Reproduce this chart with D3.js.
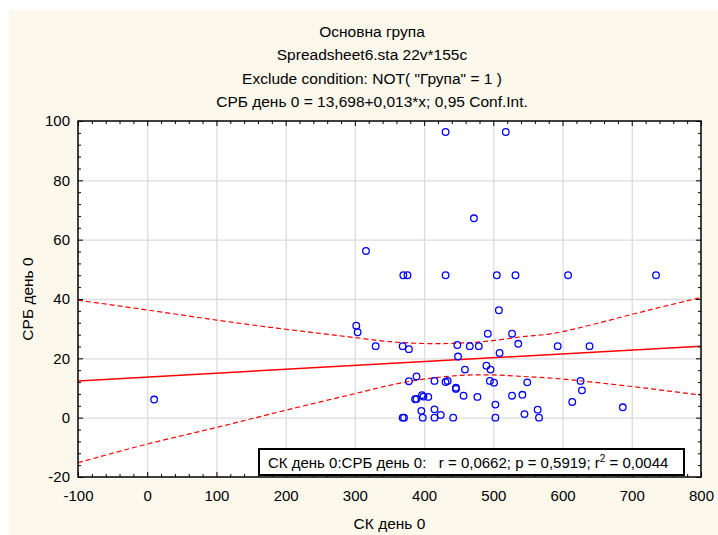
<!DOCTYPE html>
<html>
<head>
<meta charset="utf-8">
<script src="https://cdn.jsdelivr.net/npm/d3@7"></script>
<style>
  body { margin:0; background:#ffffff; }
  text { font-family: "Liberation Sans", Arial, sans-serif; }
</style>
</head>
<body>
<div id="chart"></div>
<script>
// title lines
var titleLines = ["Основна група", "Spreadsheet6.sta 22v*155c", "Exclude condition: NOT( \"Група\" = 1 )", "СРБ день 0 = 13,698+0,013*x; 0,95 Conf.Int."];

// СК день 0 / СРБ день 0 pairs
var ckValues  = [10, 302, 304, 316, 330, 369, 378, 370, 376, 431, 518, 472, 431, 505, 532, 608, 735,
                 389, 378, 387, 389, 397, 399, 406, 396, 398, 369, 371, 508, 492, 527, 536, 448, 466,
                 479, 593, 639, 449, 509, 459, 490, 496, 415, 431, 434, 495, 501, 549, 626, 628, 446,
                 446, 457, 477, 527, 542, 614, 687, 503, 415, 564, 415, 424, 442, 503, 545, 566];
var crbValues = [6.1, 31.0, 28.8, 56.2, 24.1, 24.1, 23.1, 48, 48, 96.3, 96.3, 67.2, 48, 48, 48, 48, 48,
                 13.9, 12.3, 6.2, 6.3, 7.6, 7.1, 7.0, 2.3, 0, 0, 0, 36.2, 28.3, 28.3, 24.9, 24.5, 24.1,
                 24.1, 24.1, 24.1, 20.6, 21.8, 16.2, 17.5, 16.2, 12.4, 12.0, 12.4, 12.4, 11.8, 11.9, 12.4, 9.2, 10.1,
                 9.7, 7.4, 7.0, 7.4, 7.7, 5.3, 3.5, 4.4, 2.8, 2.7, 0, 0.9, 0, 0, 1.2, 0];

// regression line coefficients (from title)
var regIntercept = 13.698;
var regSlope = 0.013;

// 0.95 confidence band
var bandX     = [-100, 0, 100, 200, 300, 350, 400, 450, 500, 550, 600, 700, 800];
var bandUpper = [39.6, 36.3, 32.9, 29.8, 27.0, 25.6, 25.0, 25.1, 26.0, 27.5, 29.0, 34.8, 40.5];
var bandLower = [-15.2, -8.9, -3.3, 2.5, 8.1, 10.9, 13.0, 14.2, 14.4, 13.8, 13.0, 10.5, 7.6];

var xTicks = [-100, 0, 100, 200, 300, 400, 500, 600, 700, 800];
var yTicks = [-20, 0, 20, 40, 60, 80, 100];

var statsText = "СК день 0:СРБ день 0:   r = 0,0662; p = 0,5919; r";

var width = 718, height = 535;
var marginLeft = 78, marginRight = 17, marginTop = 121, marginBottom = 58;
var plotWidth = width - marginLeft - marginRight;
var plotHeight = height - marginTop - marginBottom;

var svg = d3.select("#chart").append("svg").attr("width", width).attr("height", height);

//background
svg.append("rect").attr("x", 9).attr("y", 10).attr("width", width - 9).attr("height", height - 10)
    .attr("fill", "#fdf8ec");

var xScale = d3.scaleLinear().domain([-100, 800]).range([0, plotWidth]);
var yScale = d3.scaleLinear().domain([-20, 100]).range([plotHeight, 0]);

var g = svg.append("g").attr("transform", "translate(" + marginLeft + "," + marginTop + ")");
g.append("rect").attr("width", plotWidth).attr("height", plotHeight).attr("fill", "white");

// grid
var gridX = g.append("g").attr("transform", "translate(0," + plotHeight + ")")
    .call(d3.axisBottom(xScale).tickValues(xTicks.slice(1, -1)).tickSize(-plotHeight).tickFormat(""));
var gridY = g.append("g")
    .call(d3.axisLeft(yScale).tickValues(yTicks.slice(1, -1)).tickSize(-plotWidth).tickFormat(""));
[gridX, gridY].forEach(function(a) {
    a.select(".domain").remove();
    a.selectAll("line").attr("stroke", "#dcdcdc").attr("stroke-width", 1.3);
});

// confidence band
var bandLine = d3.line().curve(d3.curveNatural)
    .x(function(d) { return xScale(d[0]); })
    .y(function(d) { return yScale(d[1]); });
[bandUpper, bandLower].forEach(function(vals) {
    g.append("path")
        .datum(bandX.map(function(x, i) { return [x, vals[i]]; }))
        .attr("d", bandLine)
        .attr("fill", "none")
        .attr("stroke", "#ff0000")
        .attr("stroke-width", 1.2)
        .attr("stroke-dasharray", "5,3");
});

// regression line
g.append("line")
    .attr("x1", xScale(-100)).attr("x2", xScale(800))
    .attr("y1", yScale(regIntercept + regSlope * -100))
    .attr("y2", yScale(regIntercept + regSlope * 800))
    .attr("stroke", "#ff0000").attr("stroke-width", 1.5);

// points
g.append("g").selectAll("circle").data(ckValues).enter()
    .append("circle")
    .attr("cx", function(d) { return xScale(d); })
    .attr("cy", function(d, i) { return yScale(crbValues[i]); })
    .attr("r", 3.3)
    .attr("fill", "none")
    .attr("stroke", "#0000ff")
    .attr("stroke-width", 1.3);

// axes with inward ticks on all four sides
var minorX = d3.range(-100, 801, 20).filter(function(v) { return v % 100 != 0; });
var minorY = d3.range(-20, 101, 4).filter(function(v) { return v % 20 != 0; });
var plainFormat = function(d) { return String(d); }; // hyphen minus like the original

function styleAxis(a) {
    a.select(".domain").remove();
    a.selectAll("line").attr("stroke", "black").attr("stroke-width", 1);
    a.selectAll("text").attr("font-size", "15px").attr("fill", "black");
}

var axB = g.append("g").attr("transform", "translate(0," + plotHeight + ")")
    .call(d3.axisBottom(xScale).tickValues(xTicks).tickSize(-5).tickPadding(13).tickFormat(plainFormat));
styleAxis(axB);
styleAxis(g.append("g").attr("transform", "translate(0," + plotHeight + ")")
    .call(d3.axisBottom(xScale).tickValues(minorX).tickSize(-3).tickFormat("")));
styleAxis(g.append("g").call(d3.axisTop(xScale).tickValues(xTicks).tickSize(-5).tickFormat("")));
styleAxis(g.append("g").call(d3.axisTop(xScale).tickValues(minorX).tickSize(-3).tickFormat("")));

var axL = g.append("g").call(d3.axisLeft(yScale).tickValues(yTicks).tickSize(-5).tickPadding(8).tickFormat(plainFormat));
styleAxis(axL);
styleAxis(g.append("g").call(d3.axisLeft(yScale).tickValues(minorY).tickSize(-3).tickFormat("")));
styleAxis(g.append("g").attr("transform", "translate(" + plotWidth + ",0)")
    .call(d3.axisRight(yScale).tickValues(yTicks).tickSize(-5).tickFormat("")));
styleAxis(g.append("g").attr("transform", "translate(" + plotWidth + ",0)")
    .call(d3.axisRight(yScale).tickValues(minorY).tickSize(-3).tickFormat("")));

// frame
g.append("rect").attr("width", plotWidth).attr("height", plotHeight)
    .attr("fill", "none").attr("stroke", "black").attr("stroke-width", 1.5);

// stats box
var box = g.append("g");
box.append("rect")
    .attr("x", 181).attr("y", 328).attr("width", 425).attr("height", 26)
    .attr("fill", "white").attr("stroke", "black").attr("stroke-width", 2);
var st = box.append("text").attr("x", 190).attr("y", 347).attr("font-size", "15px").attr("fill", "black")
    .attr("xml:space", "preserve").style("white-space", "pre");
st.append("tspan").text(statsText);
st.append("tspan").attr("dy", -6).attr("font-size", "10px").text("2");
st.append("tspan").attr("dy", 6).text(" = 0,0044");

// titles
svg.selectAll(".title").data(titleLines).enter()
    .append("text")
    .attr("class", "title")
    .attr("x", 372)
    .attr("y", function(d, i) { return 37 + i * 23.3; })
    .attr("text-anchor", "middle")
    .attr("font-size", "15.5px")
    .attr("fill", "black")
    .text(function(d) { return d; });

// axis titles
svg.append("text").attr("x", marginLeft + plotWidth / 2).attr("y", 529)
    .attr("text-anchor", "middle").attr("font-size", "15.5px").text("СК день 0");
svg.append("text").attr("transform", "translate(33," + (marginTop + plotHeight / 2) + ") rotate(-90)")
    .attr("text-anchor", "middle").attr("font-size", "15.5px").text("СРБ день 0");
</script>
</body>
</html>
